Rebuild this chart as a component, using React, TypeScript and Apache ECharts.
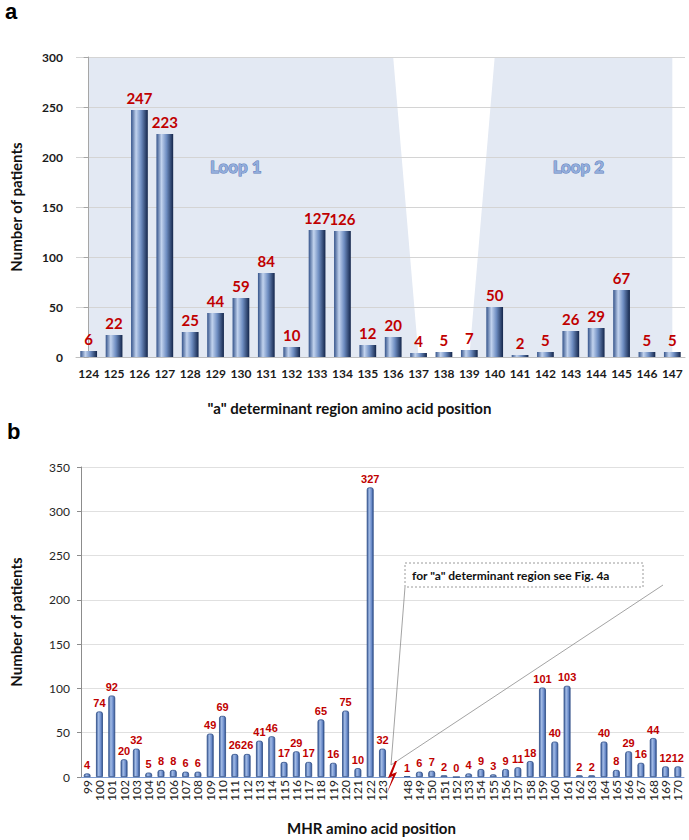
import React, { useEffect, useRef } from 'react';
import * as echarts from 'echarts';

// ---------- data ----------
const positionsA = ['124','125','126','127','128','129','130','131','132','133','134','135','136','137','138','139','140','141','142','143','144','145','146','147'];
const patientsA = [6, 22, 247, 223, 25, 44, 59, 84, 10, 127, 126, 12, 20, 4, 5, 7, 50, 2, 5, 26, 29, 67, 5, 5];

const positionsB = ['99','100','101','102','103','104','105','106','107','108','109','110','111','112','113','114','115','116','117','118','119','120','121','122','123','','148','149','150','151','152','153','154','155','156','157','158','159','160','161','162','163','164','165','166','167','168','169','170'];
const patientsB = [4, 74, 92, 20, 32, 5, 8, 8, 6, 6, 49, 69, 26, 26, 41, 46, 17, 29, 17, 65, 16, 75, 10, 327, 32, null, 1, 6, 7, 2, 0, 4, 9, 3, 9, 11, 18, 101, 40, 103, 2, 2, 40, 8, 29, 16, 44, 12, 12];

const loopNames = ['Loop 1', 'Loop 2'];
// loop regions in (category index, value) units
const loopRegions = [
  [[0, 0], [0, 300], [12, 300], [13, 0]],
  [[15, 0], [16, 300], [23, 300], [23, 0]],
];
const loopLabelAnchors = [[5.8, 191], [19.3, 191]];

const yTicksA = { min: 0, max: 300, interval: 50 };
const yTicksB = { min: 0, max: 350, interval: 50 };

const FONT = 'Lato, "Open Sans", sans-serif';
const NARROW = '"Liberation Sans", Arial, sans-serif';
const RED = '#C00000';

export default function App() {
  const ref = useRef<HTMLDivElement>(null);
  useEffect(() => {
    if (!ref.current) return;
    const chart = echarts.init(ref.current, null, { renderer: 'svg' });

    const gradA = new echarts.graphic.LinearGradient(0, 0, 1, 0, [
      { offset: 0, color: '#34538A' },
      { offset: 0.3, color: '#C2D3EE' },
      { offset: 0.6, color: '#6F8EC2' },
      { offset: 1, color: '#13254A' },
    ]);
    const gradB = new echarts.graphic.LinearGradient(0, 0, 1, 0, [
      { offset: 0, color: '#3D5E9B' },
      { offset: 0.35, color: '#A3BCE6' },
      { offset: 0.7, color: '#6F8FCD' },
      { offset: 1, color: '#34558F' },
    ]);

    const option: any = {
      animation: false,
      textStyle: { fontFamily: FONT },
      grid: [
        { left: 68, top: 57, width: 617, height: 300 },
        { left: 75, top: 467, width: 609, height: 310 },
      ],
      xAxis: [
        {
          type: 'category', gridIndex: 0, data: positionsA,
          axisLine: { lineStyle: { color: '#BFBFBF' } },
          axisTick: { show: false },
          axisLabel: { interval: 0, margin: 10, color: '#1a1a1a', fontWeight: 'bold', fontSize: 12, fontFamily: FONT },
          name: '"a" determinant region amino acid position',
          nameLocation: 'middle', nameGap: 43,
          nameTextStyle: { fontSize: 15, fontWeight: 'bold', color: '#111', fontFamily: FONT, padding: [0, 62, 0, 0] },
        },
        { type: 'value', gridIndex: 0, min: -0.5, max: 23.5, show: false },
        {
          type: 'category', gridIndex: 1, data: positionsB,
          axisLine: { lineStyle: { color: '#7F9CCF' } },
          axisTick: { show: false },
          axisLabel: { interval: 0, rotate: 90, margin: 3, color: '#1a1a1a', fontSize: 12, fontFamily: FONT },
          name: 'MHR amino acid position',
          nameLocation: 'middle', nameGap: 43,
          nameTextStyle: { fontSize: 15, fontWeight: 'bold', color: '#111', fontFamily: FONT, padding: [0, 22, 0, 0] },
        },
      ],
      yAxis: [
        {
          type: 'value', gridIndex: 0, ...yTicksA,
          axisLine: { show: true, lineStyle: { color: '#A6A6A6' } },
          axisTick: { show: true, length: 5, lineStyle: { color: '#A6A6A6' } },
          axisLabel: { margin: 13, color: '#1a1a1a', fontWeight: 'bold', fontSize: 12, fontFamily: FONT },
          splitLine: { lineStyle: { color: '#D4D4D4' } },
          name: 'Number of patients', nameLocation: 'middle', nameGap: 53,
          nameTextStyle: { fontSize: 15, fontWeight: 'bold', color: '#111', fontFamily: FONT },
        },
        {
          type: 'value', gridIndex: 1, ...yTicksB,
          axisLine: { show: true, lineStyle: { color: '#8C8C8C' } },
          axisTick: { show: true, length: 4, lineStyle: { color: '#8C8C8C' } },
          axisLabel: { margin: 11, color: '#262626', fontSize: 12, fontFamily: FONT },
          splitLine: { lineStyle: { color: '#E0E0E0' } },
          name: 'Number of patients', nameLocation: 'middle', nameGap: 58,
          nameTextStyle: { fontSize: 15, fontWeight: 'bold', color: '#111', fontFamily: FONT },
        },
      ],
      series: [
        {
          type: 'custom', xAxisIndex: 1, yAxisIndex: 0, z: -1, silent: true,
          data: loopRegions.map((_, i) => [i]),
          renderItem: (params: any, api: any) => {
            const pts = loopRegions[params.dataIndex].map((p) => api.coord(p));
            return { type: 'polygon', shape: { points: pts }, style: { fill: '#E3E9F3' } };
          },
        },
        {
          type: 'bar', xAxisIndex: 0, yAxisIndex: 0, data: patientsA,
          barCategoryGap: '34%',
          itemStyle: { color: gradA },
          label: { show: true, position: 'top', distance: 5, color: RED, fontWeight: 'bold', fontSize: 15, fontFamily: FONT },
        },
        {
          type: 'custom', xAxisIndex: 1, yAxisIndex: 0, z: 3, silent: true,
          data: loopNames.map((_, i) => [i]),
          renderItem: (params: any, api: any) => {
            const p = api.coord(loopLabelAnchors[params.dataIndex]);
            return {
              type: 'text', x: p[0], y: p[1],
              style: {
                text: loopNames[params.dataIndex], fill: '#93ADDB', stroke: '#5B7CBB', lineWidth: 1,
                fontSize: 17, fontWeight: 'bold', fontFamily: FONT, align: 'center', verticalAlign: 'middle',
              },
            };
          },
        },
        {
          type: 'bar', xAxisIndex: 2, yAxisIndex: 1, data: patientsB,
          barCategoryGap: '44%',
          itemStyle: { color: gradB, borderColor: '#2F4E88', borderWidth: 0.8, borderRadius: [2, 2, 0, 0] },
          label: { show: true, position: 'top', distance: 3, color: RED, fontWeight: 'bold', fontSize: 11, fontFamily: NARROW },
        },
      ],
      graphic: [
        { type: 'text', left: 5, top: 0, style: { text: 'a', fontSize: 22, fontWeight: 'bold', fontFamily: 'Arial, "Liberation Sans", sans-serif', fill: '#000' } },
        { type: 'text', left: 7, top: 420, style: { text: 'b', fontSize: 22, fontWeight: 'bold', fontFamily: 'Arial, "Liberation Sans", sans-serif', fill: '#000' } },
        { type: 'line', shape: { x1: 405, y1: 587, x2: 391, y2: 765 }, style: { stroke: '#8C8C8C', lineWidth: 0.8 }, z: 10 },
        { type: 'line', shape: { x1: 391, y1: 765, x2: 663, y2: 585 }, style: { stroke: '#8C8C8C', lineWidth: 0.8 }, z: 10 },
        { type: 'rect', shape: { x: 405, y: 563, width: 238, height: 24 }, style: { fill: '#fff', stroke: '#9A9A9A', lineWidth: 1, lineDash: [2, 2] }, z: 10 },
        { type: 'text', x: 412, y: 575, style: { text: 'for "a" determinant region see Fig. 4a', fontSize: 12, fontWeight: 'bold', fontFamily: FONT, fill: '#111', verticalAlign: 'middle' }, z: 11 },
        { type: 'polygon', shape: { points: [[395, 761], [388, 778], [393, 776], [387, 793], [397, 772], [392, 774], [397, 761]] }, style: { fill: RED }, z: 11 },
      ],
    };
    chart.setOption(option);
    return () => chart.dispose();
  }, []);
  return <div ref={ref} style={{ position: 'absolute', left: 0, top: 0, width: 689, height: 840 }} />;
}
